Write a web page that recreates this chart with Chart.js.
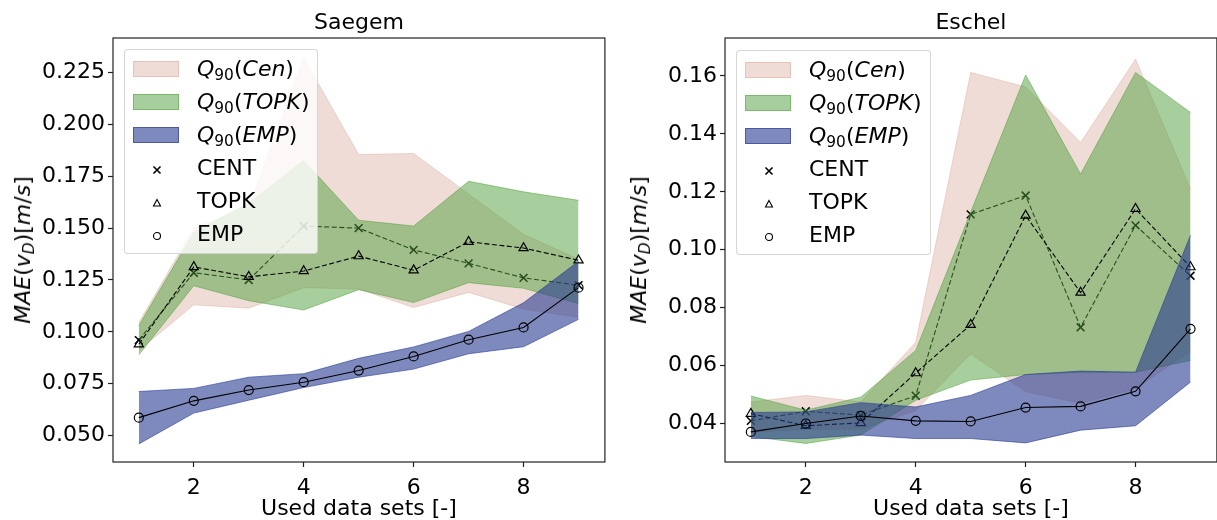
<!DOCTYPE html>
<html>
<head>
<meta charset="utf-8">
<script src="https://cdn.jsdelivr.net/npm/chart.js@4.4.1/dist/chart.umd.min.js"></script>
<style>
    body { margin: 0; width: 1217px; height: 520px; overflow: hidden; background: #fff; position: relative; font-family: 'DejaVu Sans', sans-serif; }
    .painel { position: absolute; top: 0; width: 612px; height: 520px; }
    .painel canvas { position: absolute; left: 0; top: 0; }
    .rotulo-y { position: absolute; top: 250px; font-size: 22px; line-height: 22px; white-space: nowrap; color: #000;
        transform: translate(-50%, -50%) rotate(-90deg); }
    .sub { font-size: 15.4px; position: relative; top: 4px; }
    .legenda { position: absolute; height: 205px; box-sizing: border-box; background: rgba(255, 255, 255, 0.8);
        border: 1px solid rgba(204, 204, 204, 0.8); border-radius: 4px; }
    .legenda .patch { position: absolute; left: 8px; width: 46px; height: 16px; box-sizing: border-box; }
    .legenda .marca { position: absolute; left: 26px; width: 12px; height: 12px; }
    .legenda .texto { position: absolute; left: 72px; height: 26px; line-height: 26px; font-size: 22px; white-space: nowrap; color: #000; }
</style>
</head>
<body>
<div class="painel" id="painelSaegem" style="left:0px">
    <canvas id="graficoSaegem" width="612" height="520"></canvas>
</div>
<div class="painel" id="painelEschel" style="left:612px">
    <canvas id="graficoEschel" width="612" height="520"></canvas>
</div>
<script>
/* DADOS */
const usados = [1, 2, 3, 4, 5, 6, 7, 8, 9];
const ticksX = [2, 4, 6, 8];
const ticksYSaegem = [0.050, 0.075, 0.100, 0.125, 0.150, 0.175, 0.200, 0.225];
const ticksYEschel = [0.04, 0.06, 0.08, 0.10, 0.12, 0.14, 0.16];

// Saegem
const saegemCent = [0.096, 0.1285, 0.125, 0.151, 0.150, 0.1395, 0.133, 0.126, 0.1225];
const saegemTopk = [0.094, 0.1313, 0.1265, 0.1293, 0.1365, 0.1297, 0.1434, 0.1404, 0.1345];
const saegemEmp = [0.0586, 0.0667, 0.0719, 0.0757, 0.0813, 0.0881, 0.0962, 0.1021, 0.1213];
const saegemCenSup = [0.1045, 0.150, 0.160, 0.232, 0.1855, 0.186, 0.1665, 0.147, 0.135];
const saegemCenInf = [0.091, 0.113, 0.1114, 0.1213, 0.1206, 0.1117, 0.119, 0.111, 0.107];
const saegemTopkSup = [0.103, 0.148, 0.162, 0.1826, 0.1538, 0.151, 0.1726, 0.1675, 0.1634];
const saegemTopkInf = [0.0889, 0.1222, 0.115, 0.1105, 0.1203, 0.1141, 0.1237, 0.121, 0.1136];
const saegemEmpSup = [0.0712, 0.0727, 0.0781, 0.0798, 0.0872, 0.0927, 0.1002, 0.114, 0.134];
const saegemEmpInf = [0.0459, 0.0608, 0.0670, 0.0731, 0.0781, 0.082, 0.0894, 0.0928, 0.106];

// Eschel
const eschelCent = [0.0409, 0.0442, 0.0429, 0.0496, 0.1122, 0.1187, 0.0732, 0.1084, 0.091];
const eschelTopk = [0.0434, 0.0392, 0.0402, 0.0574, 0.0741, 0.1118, 0.0852, 0.1141, 0.094];
const eschelEmp = [0.0371, 0.0400, 0.0426, 0.0409, 0.0407, 0.0455, 0.0459, 0.0511, 0.0727];
const eschelCenSup = [0.0474, 0.0497, 0.0474, 0.068, 0.1612, 0.1562, 0.137, 0.1658, 0.121];
const eschelCenInf = [0.037, 0.038, 0.038, 0.0445, 0.064, 0.051, 0.047, 0.052, 0.065];
const eschelTopkSup = [0.0495, 0.0446, 0.0491, 0.0652, 0.113, 0.1603, 0.1261, 0.1612, 0.1474];
const eschelTopkInf = [0.0355, 0.0331, 0.036, 0.048, 0.055, 0.0569, 0.0577, 0.0577, 0.0618];
const eschelEmpSup = [0.0438, 0.044, 0.0472, 0.0457, 0.0497, 0.0569, 0.0581, 0.0577, 0.105];
const eschelEmpInf = [0.0348, 0.0348, 0.036, 0.0348, 0.0348, 0.0333, 0.0377, 0.0392, 0.0543];

/* CORES */
const corCen = 'rgba(205, 140, 120, 0.3)';
const corTopk = 'rgba(80, 160, 60, 0.5)';
const corEmp = 'rgba(40, 60, 145, 0.6)';
const fonte = 'DejaVu Sans';

function pontos(valores) {
    return usados.map(function (x, i) { return { x: x, y: valores[i] }; });
}

// faixa = linha superior (preenche ate a proxima) + linha inferior
function faixa(sup, inf, cor, ordem) {
    return [
        { data: pontos(sup), borderColor: cor, backgroundColor: cor, borderWidth: 1, pointRadius: 0, pointHoverRadius: 0, fill: '+1', order: ordem },
        { data: pontos(inf), borderColor: cor, borderWidth: 1, pointRadius: 0, pointHoverRadius: 0, fill: false, order: ordem }
    ];
}

function linha(valores, estilo, raio, tracejado, ordem) {
    return {
        data: pontos(valores),
        borderColor: '#000',
        borderWidth: 1.1,
        borderDash: tracejado,
        fill: false,
        pointStyle: estilo,
        pointRadius: raio,
        pointBorderColor: '#000',
        pointBackgroundColor: 'rgba(0,0,0,0)',
        pointBorderWidth: estilo == 'crossRot' ? 1.6 : 1.2,
        order: ordem
    };
}

// moldura completa em volta da area do grafico (como o matplotlib)
const moldura = {
    id: 'moldura',
    afterDraw(chart) {
        const { ctx, chartArea: a } = chart;
        ctx.save();
        ctx.strokeStyle = '#222';
        ctx.lineWidth = 1.2;
        ctx.strokeRect(a.left, a.top, a.right - a.left, a.bottom - a.top);
        ctx.restore();
    }
};

function plotarGrafico(idCanvas, titulo, minY, maxY, ticksY, casas, s) {
    const dados = {
        datasets: [
            ...faixa(s.cenSup, s.cenInf, corCen, 6),
            linha(s.cent, 'crossRot', 5.5, [5, 2.5], 5),
            ...faixa(s.topkSup, s.topkInf, corTopk, 4),
            linha(s.topk, 'triangle', 5.3, [5, 2.5], 3),
            ...faixa(s.empSup, s.empInf, corEmp, 2),
            linha(s.emp, 'circle', 4.5, [], 1)
        ]
    };

    const config = {
        type: 'line',
        data: dados,
        options: {
            responsive: false,
            animation: false,
            devicePixelRatio: 1,
            layout: { padding: { left: 0, right: 4, top: 0, bottom: 0 } },
            scales: {
                x: {
                    type: 'linear',
                    min: 0.53,
                    max: 9.48,
                    afterBuildTicks: function (axis) { axis.ticks = ticksX.map(function (v) { return { value: v }; }); },
                    afterFit: function (scale) { scale.height = 58; },
                    grid: { drawOnChartArea: false, drawTicks: true, tickLength: 5, tickColor: '#222', tickWidth: 1.2 },
                    border: { display: false },
                    ticks: { color: '#000', padding: 8, font: { family: fonte, size: 22 } },
                    title: { display: true, text: 'Used data sets [-]', color: '#000', padding: { top: 0, bottom: 0 }, font: { family: fonte, size: 22, lineHeight: 1.0 } }
                },
                y: {
                    type: 'linear',
                    min: minY,
                    max: maxY,
                    afterBuildTicks: function (axis) { axis.ticks = ticksY.map(function (v) { return { value: v }; }); },
                    afterFit: function (scale) { scale.width = 113; },
                    grid: { drawOnChartArea: false, drawTicks: true, tickLength: 5, tickColor: '#222', tickWidth: 1.2 },
                    border: { display: false },
                    ticks: {
                        color: '#000', padding: 3, font: { family: fonte, size: 22 },
                        callback: function (v) { return v.toFixed(casas); }
                    }
                }
            },
            plugins: {
                title: {
                    display: true,
                    text: titulo,
                    fullSize: false,
                    color: '#000',
                    padding: { top: 10.5, bottom: 1.1 },
                    font: { family: fonte, size: 22, weight: 'normal', lineHeight: 1.2 }
                },
                legend: { display: false },
                tooltip: { enabled: false }
            }
        },
        plugins: [moldura]
    };

    new Chart(document.getElementById(idCanvas).getContext('2d'), config);
}

// rotulo do eixo y e legenda em HTML (italico e subscrito do matplotlib)
function montarTextos(idPainel, xRotulo, topoLegenda, larguraLegenda) {
    const painel = document.getElementById(idPainel);

    const rotulo = document.createElement('div');
    rotulo.className = 'rotulo-y';
    rotulo.style.left = xRotulo + 'px';
    rotulo.innerHTML = '<i>MAE</i>(<i>v</i><span class="sub"><i>D</i></span>)[<i>m</i>/<i>s</i>]';
    painel.appendChild(rotulo);

    const legenda = document.createElement('div');
    legenda.className = 'legenda';
    legenda.style.left = '124px';
    legenda.style.top = topoLegenda + 'px';
    legenda.style.width = larguraLegenda + 'px';

    const faixas = [
        { cor: corCen, texto: '<i>Q</i><span class="sub">90</span>(<i>Cen</i>)', y: 18.5 },
        { cor: corTopk, texto: '<i>Q</i><span class="sub">90</span>(<i>TOPK</i>)', y: 51.5 },
        { cor: corEmp, texto: '<i>Q</i><span class="sub">90</span>(<i>EMP</i>)', y: 84.5 }
    ];
    const marcas = [
        { svg: '<path d="M2.5 2.5L9.5 9.5M9.5 2.5L2.5 9.5" stroke="#000" stroke-width="1.6" fill="none"/>', texto: 'CENT', y: 118 },
        { svg: '<path d="M6 2.5L9.5 9L2.5 9Z" stroke="#000" stroke-width="1.1" fill="none"/>', texto: 'TOPK', y: 151 },
        { svg: '<circle cx="6" cy="6" r="3.5" stroke="#000" stroke-width="1.1" fill="none"/>', texto: 'EMP', y: 183.5 }
    ];

    faixas.forEach(function (f) {
        const p = document.createElement('div');
        p.className = 'patch';
        p.style.top = (f.y - 8) + 'px';
        p.style.background = f.cor;
        p.style.border = '1px solid ' + f.cor;
        legenda.appendChild(p);
        const t = document.createElement('div');
        t.className = 'texto';
        t.style.top = (f.y - 13) + 'px';
        t.innerHTML = f.texto;
        legenda.appendChild(t);
    });
    marcas.forEach(function (m) {
        const s = document.createElementNS('http://www.w3.org/2000/svg', 'svg');
        s.setAttribute('class', 'marca');
        s.setAttribute('viewBox', '0 0 12 12');
        s.style.top = (m.y - 6 + 2) + 'px';
        s.innerHTML = m.svg;
        legenda.appendChild(s);
        const t = document.createElement('div');
        t.className = 'texto';
        t.style.top = (m.y - 13) + 'px';
        t.textContent = m.texto;
        legenda.appendChild(t);
    });
    painel.appendChild(legenda);
}

plotarGrafico('graficoSaegem', 'Saegem', 0.0372, 0.2417, ticksYSaegem, 3, {
    cent: saegemCent, topk: saegemTopk, emp: saegemEmp,
    cenSup: saegemCenSup, cenInf: saegemCenInf,
    topkSup: saegemTopkSup, topkInf: saegemTopkInf,
    empSup: saegemEmpSup, empInf: saegemEmpInf
});
plotarGrafico('graficoEschel', 'Eschel', 0.0267, 0.1731, ticksYEschel, 2, {
    cent: eschelCent, topk: eschelTopk, emp: eschelEmp,
    cenSup: eschelCenSup, cenInf: eschelCenInf,
    topkSup: eschelTopkSup, topkInf: eschelTopkInf,
    empSup: eschelEmpSup, empInf: eschelEmpInf
});

montarTextos('painelSaegem', 23.5, 49, 194);
montarTextos('painelEschel', 28, 50, 195);
</script>
</body>
</html>
